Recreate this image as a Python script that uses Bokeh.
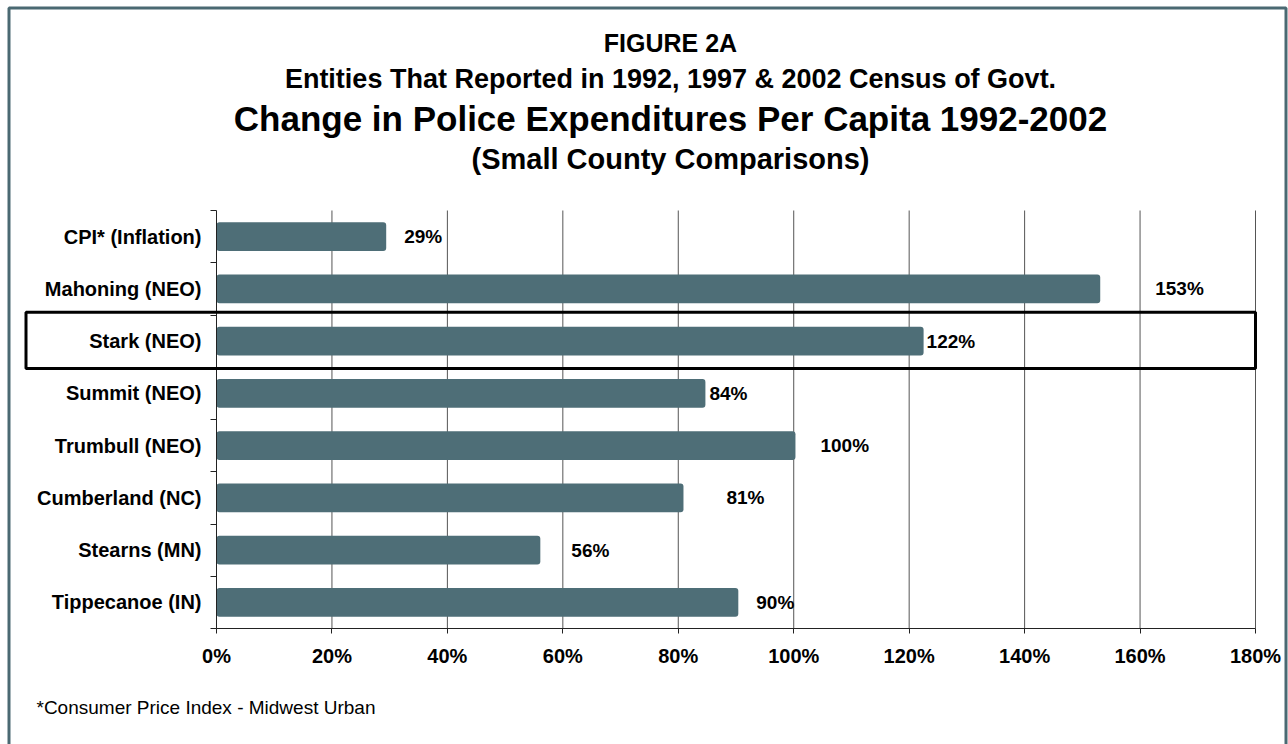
from bokeh.plotting import figure
from bokeh.models import (Range1d, FixedTicker, ColumnDataSource, LabelSet,
                          Label, BoxAnnotation)
from bokeh.core.properties import value
from bokeh.embed import file_html
from bokeh.resources import INLINE

# ---------------- data ----------------
categories = ["CPI* (Inflation)", "Mahoning (NEO)", "Stark (NEO)", "Summit (NEO)",
              "Trumbull (NEO)", "Cumberland (NC)", "Stearns (MN)", "Tippecanoe (IN)"]
changes = [29.4, 153.1, 122.5, 84.7, 100.3, 80.9, 56.1, 90.4]
value_labels = ["29%", "153%", "122%", "84%", "100%", "81%", "56%", "90%"]
x_ticks = [0, 20, 40, 60, 80, 100, 120, 140, 160, 180]
x_tick_labels = ["0%", "20%", "40%", "60%", "80%", "100%", "120%", "140%", "160%", "180%"]
highlighted = "Stark (NEO)"
title_lines = ["FIGURE 2A",
               "Entities That Reported in 1992, 1997 & 2002 Census of Govt.",
               "Change in Police Expenditures Per Capita 1992-2002",
               "(Small County Comparisons)"]
footnote = "*Consumer Price Index  - Midwest Urban"

# label placement (pixel offsets from bar end, as placed in the original)
label_dx = [18, 55, 3, 4, 25, 43, 31, 18]

# ---------------- style / layout ----------------
FONT = "Liberation Sans"
BAR = "#4e6e77"
BORDER = "#4a6972"
W, H = 1288, 744
PLOT_L, PLOT_R, PLOT_T, PLOT_B = 216, 1255, 210, 628   # pixel box of the plotting area

n = len(categories)
x_min, x_max = x_ticks[0], x_ticks[-1]
sx = (PLOT_R - PLOT_L) / (x_max - x_min)
sy = (PLOT_B - PLOT_T) / n
x_range = Range1d(x_min - PLOT_L / sx, x_max + (W - PLOT_R) / sx)
y_range = Range1d(n + (H - PLOT_B) / sy, -PLOT_T / sy)   # categories run top -> bottom

ypos = [i + 0.5 for i in range(n)]

p = figure(width=W, height=H, output_backend="svg", toolbar_location=None,
           x_range=x_range, y_range=y_range,
           min_border_left=0, min_border_right=0,
           min_border_top=0, min_border_bottom=0)
p.outline_line_color = None
p.background_fill_color = "white"
p.border_fill_color = "white"
p.xgrid.visible = False
p.ygrid.visible = False

# vertical grid lines (behind bars), only inside the plotting area
p.segment(x0=x_ticks[1:], y0=[0] * (len(x_ticks) - 1), x1=x_ticks[1:], y1=[n] * (len(x_ticks) - 1),
          line_color="#555555", line_width=1, level="underlay")

# x axis
xa = p.xaxis[0]
xa.fixed_location = n
xa.bounds = (x_min, x_max)
xa.ticker = FixedTicker(ticks=x_ticks)
xa.major_label_overrides = {t: l for t, l in zip(x_ticks, x_tick_labels)}
xa.axis_line_color = "#222222"
xa.major_tick_line_color = "#222222"
xa.major_tick_in = 0
xa.major_tick_out = 5
xa.minor_tick_line_color = None
xa.major_label_text_font = FONT
xa.major_label_text_font_style = "bold"
xa.major_label_text_font_size = "20px"
xa.major_label_text_color = "black"
xa.major_label_standoff = 11

# y axis (labels at category centres, ticks at category boundaries)
ya = p.yaxis[0]
ya.fixed_location = x_min
ya.bounds = (0, n)
ya.ticker = FixedTicker(ticks=ypos, minor_ticks=list(range(n + 1)))
ya.major_label_overrides = {y: c for y, c in zip(ypos, categories)}
ya.axis_line_color = "#222222"
ya.major_tick_line_color = None
ya.major_tick_in = 0
ya.major_tick_out = 0
ya.minor_tick_line_color = "#222222"
ya.minor_tick_in = 0
ya.minor_tick_out = 6
ya.major_label_text_font = FONT
ya.major_label_text_font_style = "bold"
ya.major_label_text_font_size = "20px"
ya.major_label_text_color = "black"
ya.major_label_standoff = 9

src = ColumnDataSource(dict(y=ypos, right=changes, label=value_labels, dx=label_dx))
p.hbar(y="y", left=0, right="right", height=0.555, source=src,
       fill_color=BAR, line_color=None, border_radius=3)

p.add_layout(LabelSet(x="right", y="y", text="label", x_offset="dx", source=src,
                      text_align="left", text_baseline="middle",
                      text_font=value(FONT), text_font_style="bold",
                      text_font_size="19px", text_color="black"))

# highlight box around the highlighted category
hi = categories.index(highlighted)
p.add_layout(BoxAnnotation(left=25.5, left_units="canvas",
                           right=x_max, top=hi - 0.054, bottom=hi + 1.024,
                           fill_color=None, fill_alpha=0,
                           line_color="black", line_alpha=1, line_width=3))

# titles
title_y = [42, 78, 118, 158]
title_sizes = ["25px", "27px", "35px", "29px"]
for t, yy, fs in zip(title_lines, title_y, title_sizes):
    p.add_layout(Label(x=670, y=yy, x_units="canvas", y_units="canvas", text=t,
                       text_align="center", text_baseline="middle",
                       text_font=FONT, text_font_style="bold",
                       text_font_size=fs, text_color="black"))

p.add_layout(Label(x=36, y=707, x_units="canvas", y_units="canvas", text=footnote,
                   text_align="left", text_baseline="middle",
                   text_font=FONT, text_font_size="19px", text_color="black"))

# outer frame of the figure (bottom edge lies below the visible page)
p.add_layout(BoxAnnotation(left=8.5, right=1285.5, top=7.5, bottom=H + 40,
                           left_units="canvas", right_units="canvas",
                           top_units="canvas", bottom_units="canvas",
                           fill_color=None, fill_alpha=0,
                           line_color=BORDER, line_alpha=1, line_width=3))

open("out.html", "w").write(file_html(p, INLINE))
